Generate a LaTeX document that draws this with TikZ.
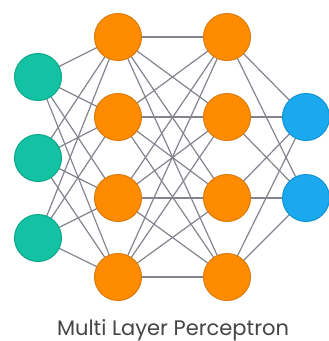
\documentclass[tikz,border=0pt]{standalone}
\usepackage{fontspec}
\setmainfont{Poppins}
\usetikzlibrary{backgrounds}
\definecolor{tealc}{HTML}{12C2A2}
\definecolor{tealb}{HTML}{0EA88C}
\definecolor{orangec}{HTML}{FF8C00}
\definecolor{orangeb}{HTML}{D97A0A}
\definecolor{bluec}{HTML}{1AA9EE}
\definecolor{blueb}{HTML}{1592D0}
\definecolor{edgec}{HTML}{84848F}
\definecolor{textc}{HTML}{454545}
\begin{document}
\begin{tikzpicture}[x=1pt,y=-1pt,
  neuron/.style={circle,minimum size=47pt,inner sep=0pt,line width=1pt},
  inn/.style={neuron,fill=tealc,draw=tealb},
  hid/.style={neuron,fill=orangec,draw=orangeb},
  outn/.style={neuron,fill=bluec,draw=blueb},
  conn/.style={draw=edgec,line width=1.2pt}]
\useasboundingbox (0,0) rectangle (329,341);
\node[inn] (i1) at (38,77) {};
\node[inn] (i2) at (38,158) {};
\node[inn] (i3) at (38,238) {};
\foreach \k/\y in {1/37,2/117,3/198,4/277}{
  \node[hid] (a\k) at (118,\y) {};
  \node[hid] (b\k) at (227,\y) {};
}
\node[outn] (o1) at (306,117) {};
\node[outn] (o2) at (306,198) {};
\begin{scope}[on background layer]
\fill[white] (0,0) rectangle (329,341);
\foreach \i in {1,2,3}{\foreach \j in {1,2,3,4}{\draw[conn] (i\i.center) -- (a\j.center);}}
\foreach \i in {1,2,3,4}{\foreach \j in {1,2,3,4}{\draw[conn] (a\i.center) -- (b\j.center);}}
\foreach \i in {1,2,3,4}{\foreach \j in {1,2}{\draw[conn] (b\i.center) -- (o\j.center);}}
\end{scope}
\node[font=\fontsize{21}{23}\selectfont,text=textc,anchor=base,inner sep=0pt] (t) at (173,335) {Multi Layer Perceptron};
\end{tikzpicture}
\end{document}
